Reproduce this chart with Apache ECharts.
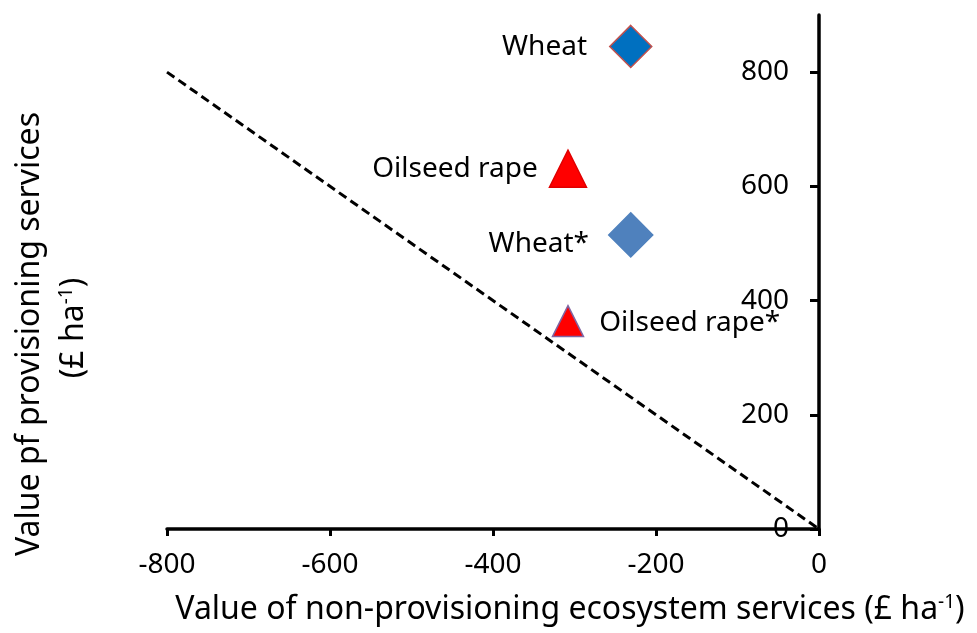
<!DOCTYPE html>
<html>
<head>
<meta charset="utf-8">
<script src="https://cdn.jsdelivr.net/npm/echarts@6/dist/echarts.min.js"></script>
<style>
  html, body { margin: 0; padding: 0; background: #fff; }
  #chart { width: 977px; height: 633px; }
</style>
</head>
<body>
<div id="chart"></div>
<script>
// crops and their values (£ ha-1)
const cropNames = ['Wheat', 'Oilseed rape', 'Wheat*', 'Oilseed rape*'];
const nonProvisioning = [-231, -308, -231, -308];
const provisioning = [845, 631, 515, 364];
const xTicks = [-800, -600, -400, -200, 0];
const yTicks = [0, 200, 400, 600, 800];
const breakEvenLine = [[-800, 800], [0, 0]];

// marker looks, one per crop
const markerShapes = ['diamond', 'triangle', 'diamond', 'triangle'];
const markerSizes = [42, 37, 44, 31];
const markerFills = ['#0070C0', '#FF0000', '#4F81BD', '#FF0000'];
const markerBorders = ['#C0504D', '#E00000', '#4F81BD', '#8064A2'];
const labelSides = ['left', 'left', 'left', 'right'];
const labelGaps = [22, 11, 19, 15];
const labelShifts = [[0, 1], [0, 0], [0, 9], [0, 2]];

const FONT = '"Noto Sans", "Open Sans", sans-serif';

const chart = echarts.init(document.getElementById('chart'));

const option = {
  animation: false,
  grid: { left: 167, right: 158, top: 15, bottom: 104, outerBoundsMode: 'none' },
  xAxis: {
    type: 'value',
    min: -800,
    max: 0,
    interval: 200,
    splitLine: { show: false },
    axisLine: { onZero: false, lineStyle: { color: '#000', width: 3.5 } },
    axisTick: { length: 7, lineStyle: { color: '#000', width: 3 }, customValues: xTicks },
    axisLabel: { color: '#000', fontSize: 28, fontFamily: FONT, margin: 22, customValues: xTicks }
  },
  yAxis: {
    type: 'value',
    position: 'right',
    min: 0,
    max: 900,
    splitLine: { show: false },
    axisLine: { onZero: false, lineStyle: { color: '#000', width: 3.5 } },
    axisTick: { inside: true, length: 9, lineStyle: { color: '#000', width: 3 }, customValues: yTicks },
    axisLabel: { inside: true, color: '#000', fontSize: 28, fontFamily: FONT, margin: 30, customValues: yTicks }
  },
  series: [
    {
      type: 'line',
      data: breakEvenLine,
      symbol: 'none',
      silent: true,
      lineStyle: { color: '#000', width: 3, type: [9, 5] },
      z: 1
    },
    {
      type: 'scatter',
      z: 3,
      itemStyle: { opacity: 1 },
      label: { show: true, formatter: '{b}', color: '#000', fontSize: 28, fontFamily: FONT },
      data: cropNames.map((name, i) => ({
        name: name,
        value: [nonProvisioning[i], provisioning[i]],
        symbol: markerShapes[i],
        symbolSize: markerSizes[i],
        itemStyle: { color: markerFills[i], borderColor: markerBorders[i], borderWidth: 1.5, opacity: 1 },
        label: {
          position: labelSides[i],
          distance: labelGaps[i],
          offset: labelShifts[i]
        }
      }))
    }
  ],
  graphic: [
    {
      type: 'text',
      x: 570,
      y: 610,
      style: {
        text: '{t|Value of non-provisioning ecosystem services (£ ha}{s|-1}{t|)}',
        align: 'center',
        verticalAlign: 'middle',
        rich: {
          t: { fontSize: 32, fontFamily: FONT, fill: '#000' },
          s: { fontSize: 19, fontFamily: FONT, fill: '#000', verticalAlign: 'top', padding: [0, 0, 15, 0] }
        }
      }
    },
    {
      type: 'text',
      x: 30,
      y: 334,
      rotation: Math.PI / 2,
      style: {
        text: 'Value pf provisioning services',
        align: 'center',
        verticalAlign: 'middle',
        fontSize: 32,
        fontFamily: FONT,
        fill: '#000'
      }
    },
    {
      type: 'text',
      x: 74,
      y: 328,
      rotation: Math.PI / 2,
      style: {
        text: '{t|(£ ha}{s|-1}{t|)}',
        align: 'center',
        verticalAlign: 'middle',
        rich: {
          t: { fontSize: 32, fontFamily: FONT, fill: '#000' },
          s: { fontSize: 19, fontFamily: FONT, fill: '#000', verticalAlign: 'top', padding: [0, 0, 15, 0] }
        }
      }
    }
  ]
};

chart.setOption(option);
</script>
</body>
</html>
